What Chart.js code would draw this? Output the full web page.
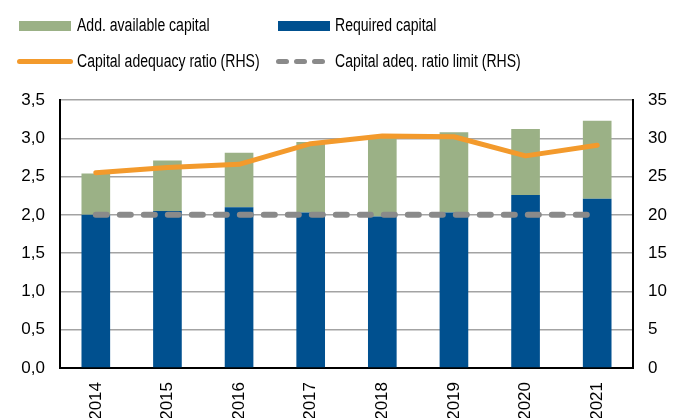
<!DOCTYPE html>
<html>
<head>
<meta charset="utf-8">
<script src="https://cdn.jsdelivr.net/npm/chart.js@4/dist/chart.umd.min.js"></script>
<style>
  html, body { margin: 0; padding: 0; background: #fff; overflow: hidden; }
  #wrap { position: relative; width: 688px; height: 418px; overflow: hidden; }
  #chart { position: absolute; left: 0; top: 0; }
  .lg { position: absolute; font-family: "Liberation Sans", Arial, sans-serif; font-size: 18px; color: #000;
        white-space: nowrap; transform: scaleX(0.78); transform-origin: left center; line-height: 20px; }
  .mk { position: absolute; }
</style>
</head>
<body>
<div id="wrap">
  <canvas id="chart" width="688" height="430"></canvas>
  <div class="mk" style="left:19px;top:21px;width:52px;height:10px;background:#9bb186"></div>
  <div class="lg" style="left:77px;top:15px">Add. available capital</div>
  <div class="mk" style="left:278px;top:21px;width:52px;height:10px;background:#00508f"></div>
  <div class="lg" style="left:335px;top:15px">Required capital</div>
  <div class="mk" style="left:17px;top:59px;width:56px;height:5px;border-radius:3px;background:#f39a2c"></div>
  <div class="lg" style="left:77px;top:51px">Capital adequacy ratio (RHS)</div>
  <div class="mk" style="left:276px;top:59px;width:13px;height:5px;border-radius:3px;background:#8a8a8a"></div>
  <div class="mk" style="left:294px;top:59px;width:13px;height:5px;border-radius:3px;background:#8a8a8a"></div>
  <div class="mk" style="left:312px;top:59px;width:13px;height:5px;border-radius:3px;background:#8a8a8a"></div>
  <div class="lg" style="left:335px;top:51px">Capital adeq. ratio limit (RHS)</div>
</div>
<script>
// data
const years = ["2014", "2015", "2016", "2017", "2018", "2019", "2020", "2021"];
const requiredCapital = [2.00, 2.05, 2.10, 2.03, 1.98, 2.03, 2.26, 2.21];
const addAvailableCapital = [0.54, 0.66, 0.71, 0.92, 1.06, 1.05, 0.86, 1.02];
const adequacyRatio = [25.5, 26.2, 26.6, 29.3, 30.3, 30.2, 27.7, 29.1];
const ratioLimit = [20, 20, 20, 20, 20, 20, 20, 20];

const tickFont = { family: "Liberation Sans", size: 17 };

const ctx = document.getElementById("chart").getContext("2d");
new Chart(ctx, {
    type: "bar",
    data: {
        labels: years,
        datasets: [
            {
                label: "Required capital",
                data: requiredCapital,
                backgroundColor: "#00508f",
                yAxisID: "y",
                order: 2,
            },
            {
                label: "Add. available capital",
                data: addAvailableCapital,
                backgroundColor: "#9bb186",
                yAxisID: "y",
                order: 2,
            },
            {
                type: "line",
                label: "Capital adequacy ratio (RHS)",
                data: adequacyRatio,
                borderColor: "#f39a2c",
                borderWidth: 5,
                pointRadius: 0,
                tension: 0,
                borderCapStyle: "round",
                borderJoinStyle: "round",
                yAxisID: "y2",
                order: 0,
            },
            {
                type: "line",
                label: "Capital adeq. ratio limit (RHS)",
                data: ratioLimit,
                borderColor: "#8a8a8a",
                borderWidth: 6,
                borderDash: [11, 13],
                borderCapStyle: "round",
                pointRadius: 0,
                yAxisID: "y2",
                order: 0,
            },
        ],
    },
    options: {
        responsive: false,
        animation: false,
        devicePixelRatio: 1,
        layout: { padding: { top: 100, left: 0, right: 0, bottom: 0 } },
        plugins: {
            legend: { display: false },
            tooltip: { enabled: false },
        },
        datasets: {
            bar: { categoryPercentage: 1, barPercentage: 0.4 },
        },
        scales: {
            x: {
                stacked: true,
                grid: { display: false, drawTicks: false },
                border: { color: "#000", width: 2 },
                ticks: {
                    color: "#000",
                    font: tickFont,
                    minRotation: 90,
                    maxRotation: 90,
                    padding: 14,
                },
                afterFit: (scale) => { scale.height = 62; },
            },
            y: {
                stacked: true,
                position: "left",
                min: 0,
                max: 3.5,
                grid: { color: "#a3a3a3", lineWidth: 1.5, drawTicks: false },
                border: { color: "#000", width: 2 },
                ticks: {
                    stepSize: 0.5,
                    color: "#000",
                    font: tickFont,
                    padding: 15,
                    callback: (v) => v.toFixed(1).replace(".", ","),
                },
                afterFit: (scale) => { scale.width = 60; },
            },
            y2: {
                position: "right",
                min: 0,
                max: 35,
                grid: { display: false, drawTicks: false },
                border: { color: "#000", width: 2 },
                ticks: {
                    stepSize: 5,
                    color: "#000",
                    font: tickFont,
                    padding: 15,
                },
                afterFit: (scale) => { scale.width = 55; },
            },
        },
    },
});
</script>
</body>
</html>
